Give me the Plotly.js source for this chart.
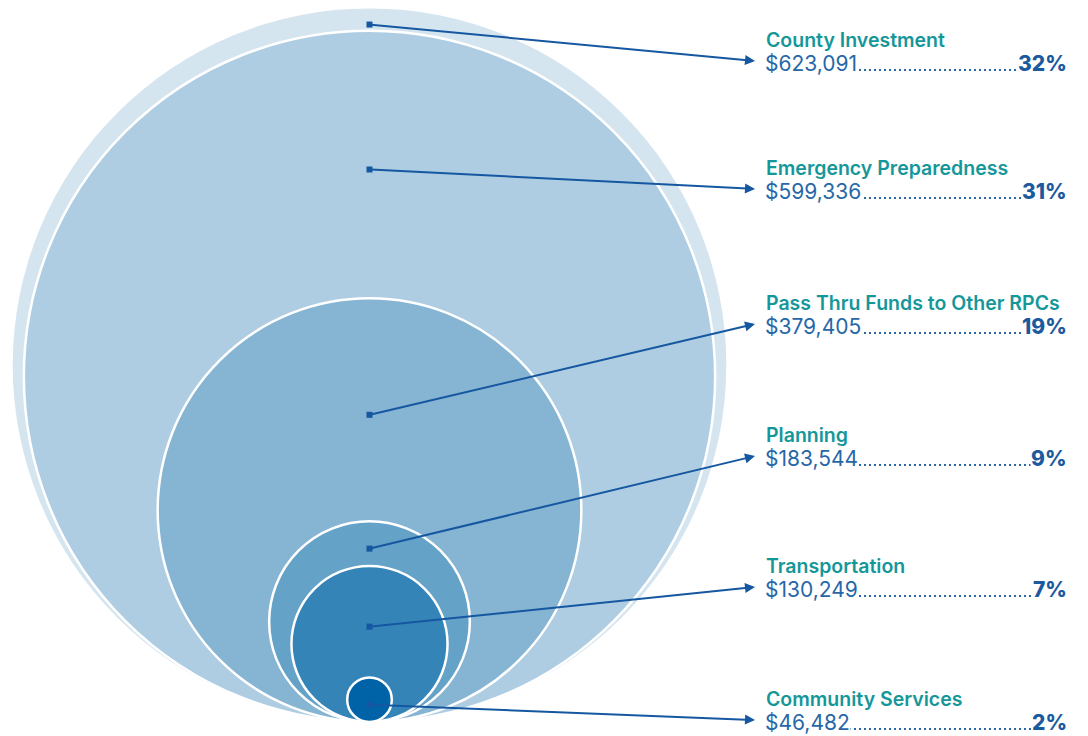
<!DOCTYPE html>
<html>
<head>
<meta charset="utf-8">
<script src="https://cdn.plot.ly/plotly-3.0.1.min.js"></script>
<style>html,body{margin:0;padding:0;background:#fff;}#chart{width:1088px;height:736px;}</style>
</head>
<body>
<div id="chart"></div>
<script>
// ---- data ----
const categories = ['County Investment', 'Emergency Preparedness', 'Pass Thru Funds to Other RPCs', 'Planning', 'Transportation', 'Community Services'];
const amounts = [623091, 599336, 379405, 183544, 130249, 46482];
const percents = [32, 31, 19, 9, 7, 2];

// ---- styles / layout ----
const fills = ['#d5e5f0', '#aecde2', '#86b4d3', '#64a2c8', '#3584b8', '#0063a8'];
const outline = [0, 2.5, 2.5, 2.5, 2.5, 2.5];
const W = 1088, H = 736;
const k = 11.15;            // px per percentage point (radius)
const px = v => v / k;      // pixel -> data
const cx = px(369.5), baseY = px(722);
const labelX = 765, pctX = 1068, dotEnd = 1066;
const titleY = [40, 168, 303, 435, 566, 699];
const rowGap = 23;
const tealC = '#15979a', valC = '#2767a8', pctC = '#1b5a9e', leadC = '#1557a0';
const fontFam = 'Inter, Lato, sans-serif';

const fmt = n => '$' + n.toLocaleString('en-US');

const shapes = [];
const valueAnns = [], titleAnns = [], arrowAnns = [];
const tops = percents.map(p => baseY - 2 * p);
const dotY = percents.map((p, i) => i < percents.length - 1 ? (tops[i] + tops[i + 1]) / 2 + px(5) : baseY - p + px(5));

percents.forEach((p, i) => {
  shapes.push({
    type: 'circle', xref: 'x', yref: 'y', layer: 'below',
    x0: cx - p, x1: cx + p, y0: baseY - 2 * p, y1: baseY,
    fillcolor: fills[i],
    line: {color: '#ffffff', width: outline[i]}
  });
});

categories.forEach((c, i) => {
  const ty = titleY[i], vy = ty + rowGap;
  // dotted leader
  shapes.push({type: 'line', xref: 'x', yref: 'y', layer: 'above',
    x0: px(labelX + 4), x1: px(dotEnd - 4), y0: px(vy + 7), y1: px(vy + 7),
    line: {color: valC, width: 2, dash: '2px,3px'}});
  titleAnns.push({xref: 'x', yref: 'y', x: px(labelX - 1), y: px(ty), xanchor: 'left', yanchor: 'middle',
    text: c, showarrow: false, font: {family: fontFam, size: 19.5, color: tealC, weight: 600}});
  valueAnns.push({xref: 'x', yref: 'y', x: px(labelX - 1), y: px(vy), xanchor: 'left', yanchor: 'middle',
    text: fmt(amounts[i]), showarrow: false, bgcolor: '#ffffff', borderpad: 0,
    font: {family: fontFam, size: 21, color: valC, weight: 400}});
  valueAnns.push({xref: 'x', yref: 'y', x: px(pctX), y: px(vy), xanchor: 'right', yanchor: 'middle',
    text: percents[i] + '%', showarrow: false, bgcolor: '#ffffff', borderpad: 0,
    font: {family: fontFam, size: 21, color: pctC, weight: 800}});
  // leader arrow
  arrowAnns.push({xref: 'x', yref: 'y', axref: 'x', ayref: 'y',
    x: px(755), y: px(vy - 2), ax: cx, ay: dotY[i], text: '',
    showarrow: true, arrowhead: 2, arrowsize: 1, arrowwidth: 2, arrowcolor: leadC});
});

const dots = {
  type: 'scatter', mode: 'markers', x: categories.map(() => cx), y: dotY,
  marker: {symbol: 'square', size: 6, color: leadC}, hoverinfo: 'skip', showlegend: false
};

const layout = {
  width: W, height: H, margin: {l: 0, r: 0, t: 0, b: 0},
  paper_bgcolor: '#ffffff', plot_bgcolor: '#ffffff', showlegend: false,
  xaxis: {range: [0, px(W)], visible: false, fixedrange: true},
  yaxis: {range: [px(H), 0], visible: false, fixedrange: true},
  shapes: shapes, annotations: valueAnns.concat(titleAnns, arrowAnns)
};

Plotly.newPlot('chart', [dots], layout, {displayModeBar: false, staticPlot: true});
</script>
</body>
</html>
